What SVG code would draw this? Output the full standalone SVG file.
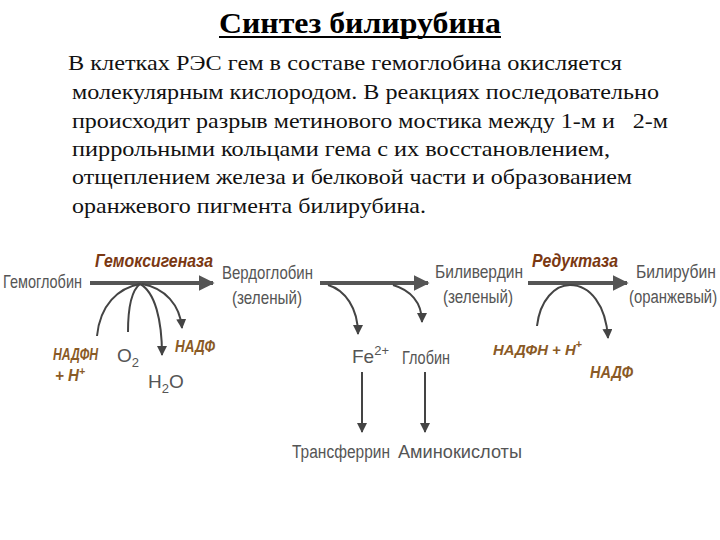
<svg xmlns="http://www.w3.org/2000/svg" width="720" height="540" viewBox="0 0 720 540">
<defs>
<style>
.title{font-family:"Liberation Serif","Times New Roman","DejaVu Serif",serif;font-size:30px;font-weight:bold;fill:#000}
.para{font-family:"Liberation Serif","Times New Roman","DejaVu Serif",serif;font-size:21px;fill:#111}
.lbl{font-family:"Liberation Sans",Arial,sans-serif;font-size:19px;fill:#555}
.org{font-family:"Liberation Sans",Arial,sans-serif;font-size:16px;fill:#8a5a26;font-weight:bold;font-style:italic}
.enz{font-family:"Liberation Sans",Arial,sans-serif;font-size:18px;fill:#7a3812;font-weight:bold;font-style:italic}
.main{stroke:#555;stroke-width:4;fill:none}
.thin{stroke:#444;stroke-width:2;fill:none}
</style>
<marker id="ah" viewBox="0 0 10 10" refX="9" refY="5" markerWidth="4" markerHeight="4" orient="auto" markerUnits="strokeWidth"><path d="M0,0 L10,5 L0,10 z" fill="#555"/></marker>
<marker id="ah2" viewBox="0 0 10 10" refX="9" refY="5" markerWidth="5" markerHeight="5" orient="auto" markerUnits="strokeWidth"><path d="M0,0 L10,5 L0,10 z" fill="#444"/></marker>
</defs>
<rect width="720" height="540" fill="#fff"/>
<g id="title">
<text class="title" x="360" y="33" text-anchor="middle" textLength="282" lengthAdjust="spacingAndGlyphs">Синтез билирубина</text>
<line x1="219" y1="37" x2="501" y2="37" stroke="#000" stroke-width="2"/>
</g>
<g id="paragraph">
<text class="para" x="68" y="70" textLength="554" lengthAdjust="spacingAndGlyphs">В клетках РЭС гем в составе гемоглобина окисляется</text>
<text class="para" x="72" y="99" textLength="587" lengthAdjust="spacingAndGlyphs">молекулярным кислородом. В реакциях последовательно</text>
<text class="para" x="72" y="128" textLength="596" lengthAdjust="spacingAndGlyphs" xml:space="preserve">происходит разрыв метинового мостика между 1-м и   2-м</text>
<text class="para" x="72" y="156" textLength="538" lengthAdjust="spacingAndGlyphs">пиррольными кольцами гема с их восстановлением,</text>
<text class="para" x="72" y="184" textLength="560" lengthAdjust="spacingAndGlyphs">отщеплением железа и белковой части и образованием</text>
<text class="para" x="72" y="213" textLength="354" lengthAdjust="spacingAndGlyphs">оранжевого пигмента билирубина.</text>
</g>
<g id="connectors">
<line class="main" x1="90" y1="283" x2="213" y2="283" marker-end="url(#ah)"/>
<line class="main" x1="320" y1="283" x2="428" y2="283" marker-end="url(#ah)"/>
<line class="main" x1="528" y1="283" x2="627" y2="283" marker-end="url(#ah)"/>
<path class="thin" d="M97,336 C100,305 118,288 140,284"/>
<path class="thin" d="M128,332 C128,305 132,290 140,284"/>
<path class="thin" d="M140,284 C155,292 162,320 162,355" marker-end="url(#ah2)"/>
<path class="thin" d="M142,284 C165,288 180,305 182,328" marker-end="url(#ah2)"/>
<path class="thin" d="M328,285 C345,290 358,308 358,334" marker-end="url(#ah2)"/>
<path class="thin" d="M393,285 C410,290 422,302 422,322" marker-end="url(#ah2)"/>
<line class="thin" x1="362" y1="372" x2="362" y2="432" marker-end="url(#ah2)"/>
<line class="thin" x1="425" y1="372" x2="425" y2="432" marker-end="url(#ah2)"/>
<path class="thin" d="M537,326 C540,300 555,285 570,285 C590,285 606,305 608,338" marker-end="url(#ah2)"/>
</g>
<g id="gemoglobin"><text class="lbl" x="3" y="288" textLength="79" lengthAdjust="spacingAndGlyphs">Гемоглобин</text></g>
<g id="gemoxygenase"><text class="enz" x="95" y="267" textLength="118" lengthAdjust="spacingAndGlyphs">Гемоксигеназа</text></g>
<g id="verdoglobin">
<text class="lbl" x="222" y="279" textLength="91" lengthAdjust="spacingAndGlyphs">Вердоглобин</text>
<text class="lbl" x="232" y="304" textLength="70" lengthAdjust="spacingAndGlyphs">(зеленый)</text>
</g>
<g id="biliverdin">
<text class="lbl" x="435" y="278" textLength="88" lengthAdjust="spacingAndGlyphs">Биливердин</text>
<text class="lbl" x="443" y="303" textLength="70" lengthAdjust="spacingAndGlyphs">(зеленый)</text>
</g>
<g id="reductase"><text class="enz" x="532" y="267" textLength="86" lengthAdjust="spacingAndGlyphs">Редуктаза</text></g>
<g id="bilirubin">
<text class="lbl" transform="translate(636,278) scale(0.84,1)" x="0" y="0" textLength="95" lengthAdjust="spacingAndGlyphs">Билирубин</text>
<text class="lbl" transform="translate(629,303) scale(0.78,1)" x="0" y="0" textLength="113" lengthAdjust="spacingAndGlyphs">(оранжевый)</text>
</g>
<g id="nadph1">
<text class="org" x="53" y="360" textLength="45" lengthAdjust="spacingAndGlyphs">НАДФН</text>
<text class="org" x="55" y="381" textLength="30" lengthAdjust="spacingAndGlyphs">+ Н<tspan dy="-6" style="font-size:11px">+</tspan></text>
</g>
<g id="o2"><text class="lbl" x="117" y="362">O<tspan dy="5" style="font-size:13px">2</tspan></text></g>
<g id="h2o"><text class="lbl" x="148" y="388">H<tspan dy="5" style="font-size:13px">2</tspan><tspan dy="-5">O</tspan></text></g>
<g id="nadp1"><text class="org" x="175" y="352" textLength="40" lengthAdjust="spacingAndGlyphs">НАДФ</text></g>
<g id="fe"><text class="lbl" x="352" y="363">Fe<tspan dy="-8" style="font-size:13px">2+</tspan></text></g>
<g id="globin"><text class="lbl" x="402" y="364" textLength="48" lengthAdjust="spacingAndGlyphs">Глобин</text></g>
<g id="transferrin"><text class="lbl" x="292" y="458" textLength="98" lengthAdjust="spacingAndGlyphs" style="font-size:18px">Трансферрин</text></g>
<g id="aminoacids"><text class="lbl" x="398" y="458" textLength="124" lengthAdjust="spacingAndGlyphs" style="font-size:18px">Аминокислоты</text></g>
<g id="nadph2"><text class="org" x="493" y="355" textLength="89" lengthAdjust="spacingAndGlyphs" style="font-size:15px">НАДФН + Н<tspan dy="-7" style="font-size:11px">+</tspan></text></g>
<g id="nadp2"><text class="org" x="590" y="378" textLength="43" lengthAdjust="spacingAndGlyphs">НАДФ</text></g>
</svg>
